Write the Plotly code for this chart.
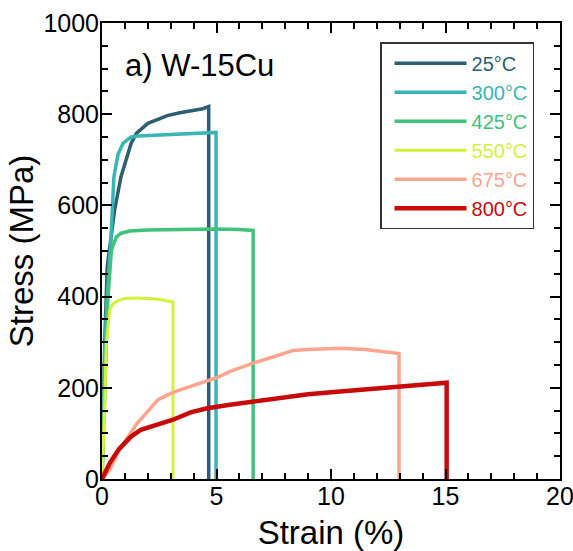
import plotly.graph_objects as go

# ---- data (strain %, stress MPa) ----
labels = ["25°C", "300°C", "425°C", "550°C", "675°C", "800°C"]
colors = ["#2d5e72", "#3ab5b5", "#3fc27a", "#d4f23c", "#fba58e", "#c80a0a"]
widths = [3.5, 3.5, 3.5, 3, 3.5, 4.5]

strain_25 = [0, 0.12, 0.23, 0.38, 0.55, 0.83, 1.05, 1.27, 1.5, 2.0, 2.5, 2.85, 3.4, 4.0, 4.4, 4.66, 4.66]
stress_25 = [0, 300, 466, 518, 590, 663, 700, 736, 758, 780, 790, 797, 803, 808, 812, 817, 0]

strain_300 = [0, 0.12, 0.23, 0.38, 0.52, 0.7, 0.92, 1.27, 1.6, 2.0, 3.0, 4.0, 4.98, 4.98]
stress_300 = [0, 280, 400, 518, 663, 712, 736, 750, 752, 753, 755, 758, 760, 0]

strain_425 = [0, 0.12, 0.25, 0.41, 0.63, 0.84, 1.2, 2.0, 3.0, 4.0, 5.0, 6.0, 6.6, 6.6]
stress_425 = [0, 200, 390, 502, 531, 539, 544, 546, 547, 548, 548, 547, 545, 0]

strain_550 = [0, 0.05, 0.1, 0.19, 0.34, 0.48, 0.7, 1.0, 1.5, 2.0, 2.5, 2.8, 3.1, 3.1]
stress_550 = [0, 50, 130, 298, 371, 384, 391, 396, 397, 396, 394, 391, 388, 0]

strain_675 = [0, 0.34, 0.77, 1.5, 2.45, 3.1, 3.87, 5.0, 5.6, 6.6, 7.5, 8.35, 9.0, 10.4, 11.5, 12.0, 12.87, 12.97, 12.97]
stress_675 = [0, 20, 65, 120, 174, 190, 203, 222, 236, 254, 268, 282, 284, 287, 284, 281, 276, 275, 0]

strain_800 = [0, 0.34, 0.73, 1.27, 1.7, 2.5, 3.1, 3.87, 4.6, 5.59, 6.6, 8.0, 9.0, 10.4, 11.5, 12.87, 14.3, 15.05, 15.05]
stress_800 = [0, 35, 65, 93, 108, 120, 130, 146, 155, 163, 170, 180, 186, 192, 197, 203, 210, 211, 0]

strains = [strain_25, strain_300, strain_425, strain_550, strain_675, strain_800]
stresses = [stress_25, stress_300, stress_425, stress_550, stress_675, stress_800]

x_ticks = [0, 5, 10, 15, 20]
y_ticks = [0, 200, 400, 600, 800, 1000]

FONT = "Liberation Sans, Arial, sans-serif"

fig = go.Figure()
for lab, col, w, xs, ys in zip(labels, colors, widths, strains, stresses):
    fig.add_trace(go.Scatter(
        x=xs, y=ys, mode="lines",
        line=dict(color=col, width=w),
        name=f"<span style='color:{col}'>{lab}</span>",
    ))

axis_common = dict(
    showline=True, linecolor="black", linewidth=2, mirror="ticks",
    ticks="inside", ticklen=10, tickwidth=2, tickcolor="black",
    showgrid=False, zeroline=False, automargin=False,
    ticklabeloverflow="allow",
    tickfont=dict(size=25, color="black", family=FONT),
)

fig.update_xaxes(
    range=[0, 20], tickvals=x_ticks, ticklabelstandoff=-6,
    minor=dict(dtick=1, ticks="inside", ticklen=6, tickwidth=2, tickcolor="black", showgrid=False),
    title=dict(text="Strain (%)", font=dict(size=33, color="black", family=FONT), standoff=12),
    **axis_common,
)
fig.update_yaxes(
    range=[0, 1000], tickvals=y_ticks, ticklabelstandoff=-4,
    minor=dict(dtick=50, ticks="inside", ticklen=6, tickwidth=2, tickcolor="black", showgrid=False),
    title=dict(text="Stress (MPa)", font=dict(size=33, color="black", family=FONT), standoff=0),
    **axis_common,
)

fig.add_annotation(
    text="a) W-15Cu", xref="paper", yref="paper", x=0.045, y=0.906,
    xanchor="left", yanchor="middle", showarrow=False,
    font=dict(size=31, color="black", family=FONT),
)

fig.update_layout(
    width=573, height=551,
    margin=dict(l=102, r=13, t=23, b=72),
    paper_bgcolor="white", plot_bgcolor="white",
    font=dict(family=FONT, color="black"),
    legend=dict(
        x=0.607, y=0.958, xanchor="left", yanchor="top",
        bgcolor="white", bordercolor="#333", borderwidth=1.5,
        font=dict(size=20, family=FONT), itemwidth=72, indentation=8,
        tracegroupgap=0,
    ),
    showlegend=True,
)

# remove the browser's default page margin so the figure fills the window exactly
fig.write_html(
    "out.html",
    config={"displayModeBar": False},
    post_script="document.body.style.margin='0';document.body.style.overflow='hidden';",
)
